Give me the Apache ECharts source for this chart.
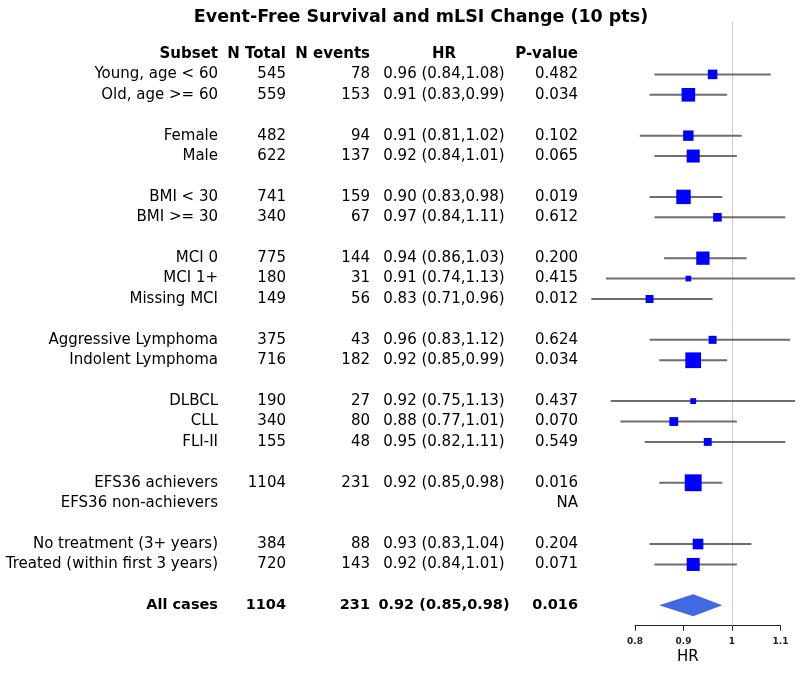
<!DOCTYPE html>
<html>
<head>
<meta charset="utf-8">
<script src="https://cdn.jsdelivr.net/npm/echarts@6/dist/echarts.min.js"></script>
<style>html,body{margin:0;padding:0;background:#fff}#chart{width:800px;height:675px}</style>
</head>
<body>
<div id="chart"></div>
<script>
// ---- data (one entry per table row, '' / null = blank spacer row) ----
const headers = ['Subset', 'N Total', 'N events', 'HR', 'P-value'];
const subsets = ['Young, age < 60', 'Old, age >= 60', '', 'Female', 'Male', '', 'BMI < 30', 'BMI >= 30', '',
  'MCI 0', 'MCI 1+', 'Missing MCI', '', 'Aggressive Lymphoma', 'Indolent Lymphoma', '',
  'DLBCL', 'CLL', 'FLI-II', '', 'EFS36 achievers', 'EFS36 non-achievers', '',
  'No treatment (3+ years)', 'Treated (within first 3 years)', '', 'All cases'];
const nTotal  = [545, 559, null, 482, 622, null, 741, 340, null, 775, 180, 149, null, 375, 716, null, 190, 340, 155, null, 1104, null, null, 384, 720, null, 1104];
const nEvents = [78, 153, null, 94, 137, null, 159, 67, null, 144, 31, 56, null, 43, 182, null, 27, 80, 48, null, 231, null, null, 88, 143, null, 231];
const hr      = [0.96, 0.91, null, 0.91, 0.92, null, 0.90, 0.97, null, 0.94, 0.91, 0.83, null, 0.96, 0.92, null, 0.92, 0.88, 0.95, null, 0.92, null, null, 0.93, 0.92, null, 0.92];
const lower   = [0.84, 0.83, null, 0.81, 0.84, null, 0.83, 0.84, null, 0.86, 0.74, 0.71, null, 0.83, 0.85, null, 0.75, 0.77, 0.82, null, 0.85, null, null, 0.83, 0.84, null, 0.85];
const upper   = [1.08, 0.99, null, 1.02, 1.01, null, 0.98, 1.11, null, 1.03, 1.13, 0.96, null, 1.12, 0.99, null, 1.13, 1.01, 1.11, null, 0.98, null, null, 1.04, 1.01, null, 0.98];
const pValue  = ['0.482', '0.034', '', '0.102', '0.065', '', '0.019', '0.612', '', '0.200', '0.415', '0.012', '',
  '0.624', '0.034', '', '0.437', '0.070', '0.549', '', '0.016', 'NA', '', '0.204', '0.071', '', '0.016'];
const xTicks = [0.8, 0.9, 1, 1.1];
const summaryRow = subsets.length - 1;

// ---- helpers ----
const FONT = '"DejaVu Sans", sans-serif';
function fmt2(v) { return v.toFixed(2); }
const hrText = hr.map((v, i) => v == null ? '' : fmt2(v) + ' (' + fmt2(lower[i]) + ',' + fmt2(upper[i]) + ')');

function textColumn(header, values, x, align) {
  const rows = [header].concat(values.map(v => v == null ? '' : String(v)));
  return {
    type: 'custom', xAxisIndex: 0, yAxisIndex: 0, clip: false, silent: true,
    data: rows.map((t, i) => [x, i]),
    renderItem: function (params, api) {
      const i = params.dataIndex;
      const p = api.coord([api.value(0), api.value(1)]);
      const bold = (i === 0 || i === summaryRow + 1);
      const size = (bold && i !== 0) ? 14.5 : 15;
      return {
        type: 'text', x: p[0], y: p[1],
        style: { text: rows[i], fill: '#000', font: (bold ? 'bold ' : '') + size + 'px ' + FONT, align: align, verticalAlign: 'middle' }
      };
    }
  };
}

const plotData = [];
hr.forEach((v, i) => { if (v != null) plotData.push([v, i + 1, lower[i], upper[i]]); });

const option = {
  animation: false,
  backgroundColor: '#fff',
  title: {
    text: 'Event-Free Survival and mLSI Change (10 pts)',
    left: 416, top: 3, textAlign: 'center',
    textStyle: { fontFamily: FONT, fontWeight: 'bold', fontSize: 17.5, color: '#000' }
  },
  grid: [
    { left: 0, right: 0, top: 21.3, bottom: 49.3 },
    { left: 635, right: 19.5, top: 21.3, bottom: 49.3 }
  ],
  xAxis: [
    { gridIndex: 0, type: 'value', min: 0, max: 800, show: false },
    {
      gridIndex: 1, type: 'value', position: 'bottom', min: 0.8, max: 1.1, interval: 0.1,
      splitLine: { show: false },
      axisLine: { show: true, onZero: false, lineStyle: { color: '#222', width: 1 } },
      axisTick: { show: true, length: 5, inside: false, lineStyle: { color: '#222' } },
      axisLabel: { margin: 11, fontSize: 9, fontWeight: 'bold', fontFamily: FONT, color: '#222',
        formatter: v => String(+v.toFixed(2)) }
    }
  ],
  yAxis: [
    { gridIndex: 0, type: 'value', min: -1.6, max: 28, inverse: true, show: false },
    { gridIndex: 1, type: 'value', min: -1.6, max: 28, inverse: true, show: false }
  ],
  graphic: [
    { type: 'text', left: 689 - 12, top: 650,
      style: { text: 'HR', font: '15px ' + FONT, fill: '#000' } }
  ],
  series: [
    textColumn(headers[0], subsets, 218, 'right'),
    textColumn(headers[1], nTotal, 286, 'right'),
    textColumn(headers[2], nEvents, 370, 'right'),
    textColumn(headers[3], hrText, 444, 'center'),
    textColumn(headers[4], pValue, 578, 'right'),
    {
      type: 'custom', xAxisIndex: 1, yAxisIndex: 1, clip: false, silent: true, z: 3,
      data: plotData,
      markLine: {
        silent: true, symbol: 'none', label: { show: false },
        lineStyle: { color: '#cccccc', width: 1, type: 'solid' },
        data: [{ xAxis: 1 }], z: 1
      },
      renderItem: function (params, api) {
        const c = api.value(0), row = api.value(1), lo = api.value(2), up = api.value(3);
        const pc = api.coord([c, row]);
        const pl = api.coord([lo, row]);
        const pu = api.coord([up, row]);
        const y = pc[1];
        if (row === summaryRow + 1) {
          return {
            type: 'polygon',
            shape: { points: [[pl[0], y], [pc[0], y - 11], [pu[0], y], [pc[0], y + 11]] },
            style: { fill: '#4169E1', stroke: null }
          };
        }
        const s = 2.4 / Math.log(up / lo);
        return {
          type: 'group',
          children: [
            { type: 'line', shape: { x1: pl[0], y1: y, x2: pu[0], y2: y },
              style: { stroke: '#6e6e6e', lineWidth: 2 } },
            { type: 'rect', shape: { x: pc[0] - s / 2, y: y - s / 2, width: s, height: s },
              style: { fill: '#0000FF', stroke: null } }
          ]
        };
      }
    }
  ]
};

const chart = echarts.init(document.getElementById('chart'), null, { renderer: 'canvas' });
chart.setOption(option);
</script>
</body>
</html>
